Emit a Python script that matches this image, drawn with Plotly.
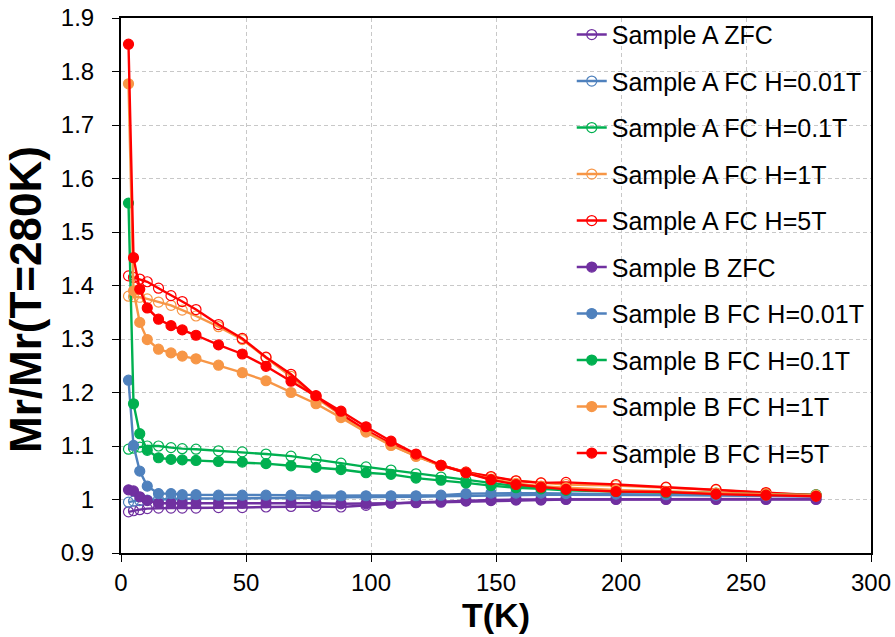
import plotly.graph_objects as go

T = [3, 5, 7.5, 10.5, 15, 20, 24.5, 30, 39, 48.5, 58, 68, 78, 88, 98, 108,
     118, 128, 138, 148, 158, 168, 178, 198, 218, 238, 258, 278]

a_zfc = [0.977, 0.979, 0.981, 0.983, 0.984, 0.984, 0.984, 0.984, 0.985, 0.985, 0.986, 0.987, 0.987, 0.986,
         0.989, 0.993, 0.995, 0.996, 0.998, 0.999, 1.000, 1.000, 1.001, 1.001, 1.001, 1.001, 1.001, 1.001]
a_fc001 = [0.995, 0.997, 0.998, 0.999, 1.000, 1.001, 1.001, 1.002, 1.002, 1.002, 1.003, 1.003, 1.003, 1.004,
           1.004, 1.005, 1.005, 1.006, 1.007, 1.008, 1.009, 1.009, 1.009, 1.009, 1.009, 1.008, 1.007, 1.006]
a_fc01 = [1.094, 1.096, 1.098, 1.100, 1.100, 1.097, 1.095, 1.094, 1.091, 1.089, 1.085, 1.081, 1.075, 1.068,
          1.061, 1.055, 1.048, 1.042, 1.036, 1.031, 1.025, 1.022, 1.019, 1.016, 1.014, 1.012, 1.010, 1.009]
a_fc1 = [1.380, 1.379, 1.378, 1.375, 1.369, 1.363, 1.354, 1.343, 1.323, 1.299, 1.265, 1.230, 1.190, 1.158,
         1.128, 1.102, 1.081, 1.063, 1.051, 1.042, 1.035, 1.031, 1.028, 1.026, 1.022, 1.018, 1.012, 1.008]
a_fc5 = [1.418, 1.415, 1.412, 1.407, 1.395, 1.381, 1.370, 1.355, 1.327, 1.301, 1.266, 1.234, 1.193, 1.160,
         1.130, 1.104, 1.082, 1.064, 1.051, 1.043, 1.035, 1.031, 1.032, 1.028, 1.023, 1.019, 1.013, 1.008]

b_zfc = [1.018, 1.016, 1.005, 0.998, 0.993, 0.993, 0.993, 0.993, 0.993, 0.993, 0.994, 0.994, 0.993, 0.992,
         0.992, 0.993, 0.994, 0.995, 0.997, 0.998, 0.999, 0.999, 1.000, 1.000, 1.000, 1.000, 1.000, 1.000]
b_fc001 = [1.223, 1.101, 1.053, 1.025, 1.011, 1.011, 1.009, 1.009, 1.008, 1.008, 1.008, 1.008, 1.007, 1.007,
           1.007, 1.007, 1.007, 1.008, 1.011, 1.012, 1.012, 1.012, 1.011, 1.010, 1.009, 1.008, 1.007, 1.006]
b_fc01 = [1.554, 1.179, 1.123, 1.092, 1.078, 1.075, 1.074, 1.073, 1.071, 1.070, 1.067, 1.063, 1.060, 1.056,
          1.050, 1.047, 1.040, 1.036, 1.031, 1.026, 1.022, 1.020, 1.017, 1.015, 1.013, 1.011, 1.009, 1.008]
b_fc1 = [1.777, 1.390, 1.331, 1.299, 1.281, 1.274, 1.268, 1.263, 1.251, 1.237, 1.222, 1.200, 1.179, 1.153,
         1.126, 1.101, 1.081, 1.064, 1.050, 1.038, 1.030, 1.025, 1.022, 1.018, 1.015, 1.012, 1.010, 1.008]
b_fc5 = [1.851, 1.452, 1.393, 1.358, 1.337, 1.325, 1.317, 1.307, 1.289, 1.272, 1.249, 1.221, 1.194, 1.165,
         1.136, 1.109, 1.085, 1.064, 1.050, 1.037, 1.028, 1.023, 1.019, 1.015, 1.014, 1.010, 1.008, 1.006]

names = ["Sample A ZFC", "Sample A FC H=0.01T", "Sample A FC H=0.1T", "Sample A FC H=1T", "Sample A FC H=5T",
         "Sample B ZFC", "Sample B FC H=0.01T", "Sample B FC H=0.1T", "Sample B FC H=1T", "Sample B FC H=5T"]
series = [a_zfc, a_fc001, a_fc01, a_fc1, a_fc5, b_zfc, b_fc001, b_fc01, b_fc1, b_fc5]
colors = ["#7030A0", "#4F81BD", "#00B050", "#F79646", "#FF0000"] * 2

x_title = "T(K)"
y_title = "Mr/Mr(T=280K)"

FONT = "Arial, Liberation Sans, sans-serif"

fig = go.Figure()
for i, (nm, ys) in enumerate(zip(names, series)):
    is_open = i < 5
    fig.add_trace(go.Scatter(
        x=T, y=ys, name=nm, mode="lines+markers",
        legendgroup=f"g{i}",
        line=dict(color=colors[i], width=2.4),
        marker=dict(
            symbol="circle-open" if is_open else "circle",
            size=10,
            color=colors[i],
            line=dict(width=1.2, color=colors[i]),
        ),
    ))

axis_common = dict(
    showline=True, linecolor="black", linewidth=2, mirror=True,
    ticks="outside", ticklen=7, tickcolor="black", tickwidth=1,
    showgrid=True, gridcolor="#c8c8c8", griddash="4px,3px", gridwidth=1,
    zeroline=False, automargin=False, ticklabeloverflow="allow",
    tickfont=dict(family=FONT, size=24, color="black"),
)

fig.update_xaxes(range=[0, 300], dtick=50, tick0=0, ticklabelstandoff=0,
                 title=dict(text=f"<b>{x_title}</b>", font=dict(family=FONT, size=34, color="black"), standoff=0),
                 **axis_common)
fig.update_yaxes(range=[0.9, 1.9], dtick=0.1, tick0=0.9, tickformat="~g", ticklabelstandoff=13,
                 **axis_common)

fig.add_annotation(
    text=f"<b>{y_title}</b>", textangle=-90,
    xref="paper", yref="paper", x=-0.1267, y=0.4748,
    xanchor="center", yanchor="middle", showarrow=False,
    font=dict(family=FONT, size=44, color="black"),
)

fig.update_layout(
    width=895, height=637,
    margin=dict(l=121, r=24, t=18, b=84, autoexpand=False),
    plot_bgcolor="white", paper_bgcolor="white",
    font=dict(family=FONT, color="black"),
    legend=dict(
        x=0.601, y=0.9815, xanchor="left", yanchor="top",
        yref="container",
        maxheight=620,
        bgcolor="rgba(0,0,0,0)", borderwidth=0,
        font=dict(family=FONT, size=25, color="black"),
        tracegroupgap=11, itemwidth=30,
    ),
    showlegend=True,
)

# remove the browser's default 8px body margin so the figure fills the window exactly
fig.write_html(
    "out.html",
    config={"displayModeBar": False},
    post_script="document.body.style.margin='0';document.body.style.overflow='hidden';",
)
